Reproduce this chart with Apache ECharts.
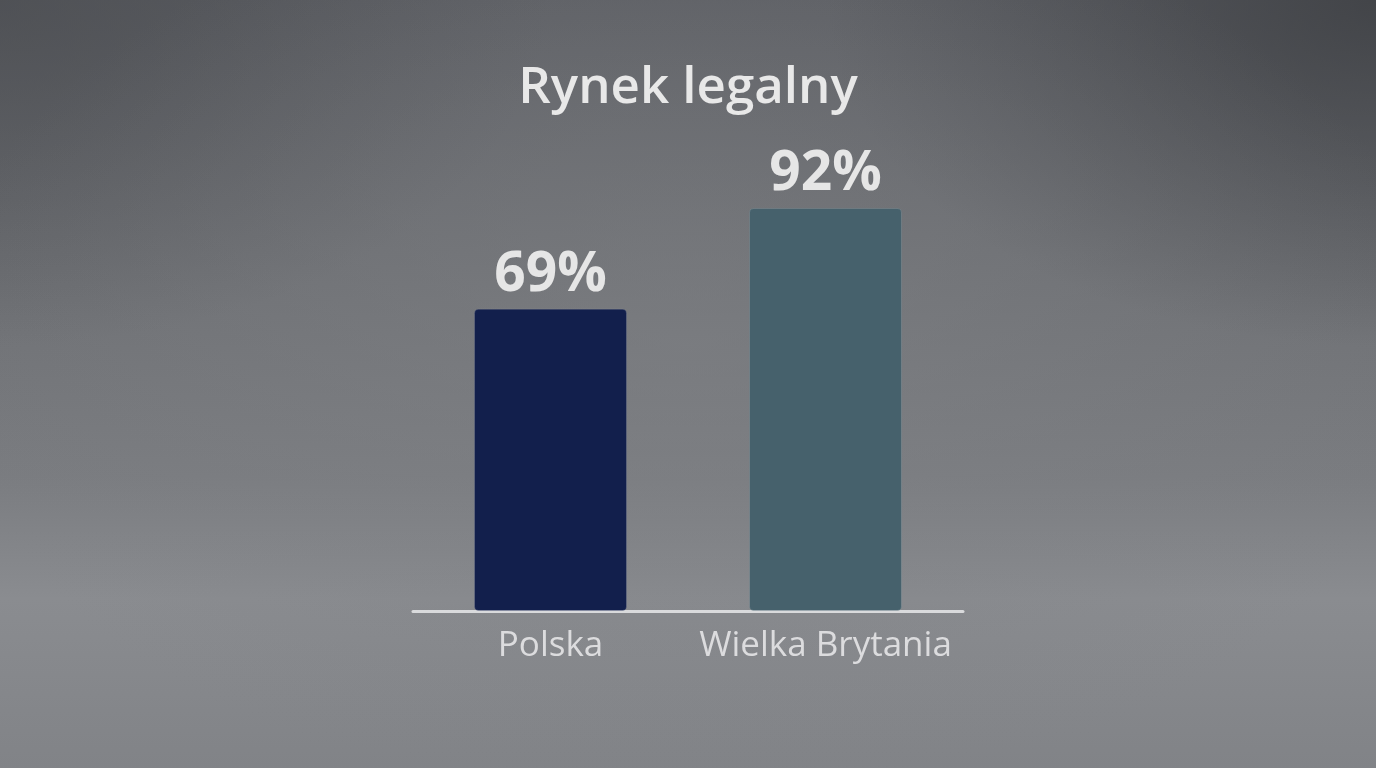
<!DOCTYPE html>
<html>
<head>
<meta charset="utf-8">
<style>
  html, body { margin: 0; padding: 0; width: 1376px; height: 768px; overflow: hidden; }
  body {
    background:
      radial-gradient(ellipse 55% 60% at 50% 45%, rgba(128,130,134,0.55) 0%, rgba(128,130,134,0) 100%),
      radial-gradient(ellipse 40% 45% at 100% 0%, rgba(60,62,66,0.8) 0%, rgba(60,62,66,0) 100%),
      radial-gradient(ellipse 40% 45% at 0% 0%, rgba(70,72,76,0.6) 0%, rgba(70,72,76,0) 100%),
      linear-gradient(to bottom, #5d5f64 0%, #6d6f73 35%, #7a7c80 62%, #8a8c90 78%, #818387 100%);
  }
  #chart { width: 1376px; height: 768px; }
</style>
<script src="https://cdn.jsdelivr.net/npm/echarts@6/dist/echarts.min.js"></script>
</head>
<body>
<div id="chart"></div>
<script>
const chartTitle = 'Rynek legalny';
const categories = ['Polska', 'Wielka Brytania'];
const values = [69, 92];
const barColors = ['#121f4c', '#46616c'];

const chart = echarts.init(document.getElementById('chart'));
const font = '"Open Sans", "Noto Sans", sans-serif';

chart.setOption({
    backgroundColor: 'transparent',
    title: {
        text: chartTitle,
        left: 'center',
        top: 58,
        textStyle: { color: '#e8e8e8', fontSize: 51, fontWeight: 600, fontFamily: font }
    },
    grid: { left: 413, right: 413, top: 173, bottom: 157 },
    xAxis: {
        type: 'category',
        data: categories,
        axisLine: { show: true, lineStyle: { color: '#d9dadc', width: 3 } },
        axisTick: { show: false },
        axisLabel: { interval: 0, color: '#dcdcde', fontSize: 35, fontWeight: 500, fontFamily: font, margin: 18 }
    },
    yAxis: { type: 'value', min: 0, max: 100, show: false },
    series: [{
        type: 'bar',
        barWidth: 153,
        data: values.map((v, i) => ({ value: v, itemStyle: { color: barColors[i] } })),
        itemStyle: { borderRadius: [4, 4, 4, 4], borderColor: 'rgba(255,255,255,0.12)', borderWidth: 1 },
        label: {
            show: true,
            position: 'top',
            distance: 6,
            color: '#e6e6e6',
            fontSize: 55,
            fontWeight: 'bold',
            fontFamily: font,
            formatter: (p) => p.value + '%'
        },
        animation: false
    }]
});
</script>
</body>
</html>
